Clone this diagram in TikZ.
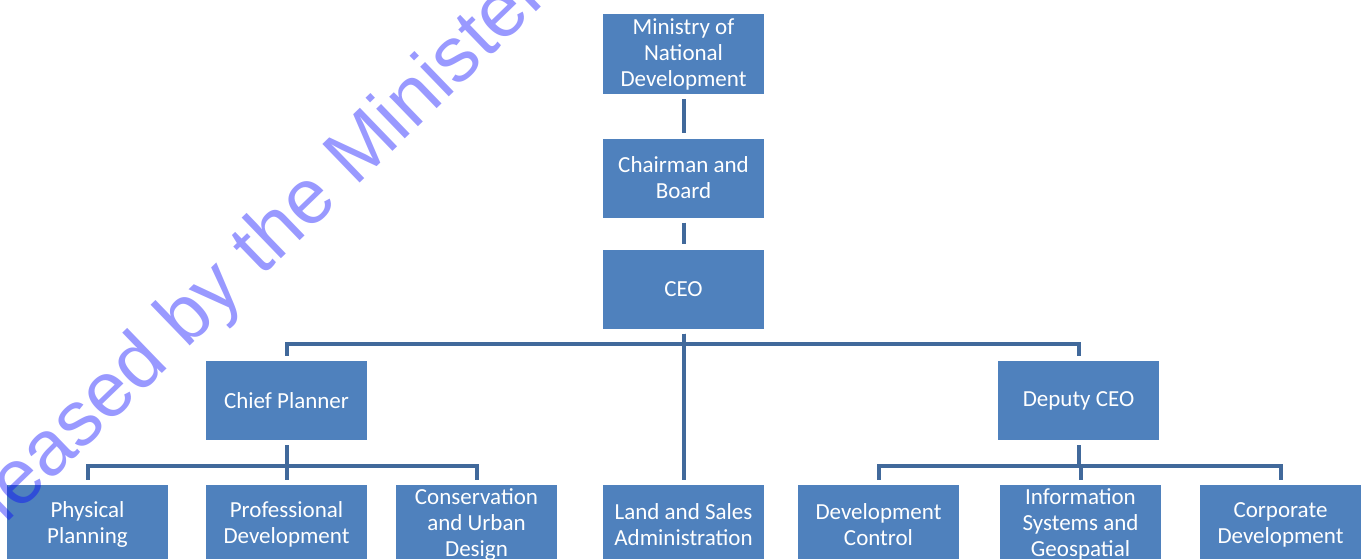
\documentclass[tikz,border=0pt]{standalone}
\usepackage{fontspec}
\setmainfont{Carlito}
\newfontfamily\wmfont{Liberation Sans}
\definecolor{boxblue}{HTML}{4F81BD}
\definecolor{lineblue}{HTML}{41699B}
\tikzset{
  orgbox/.style={fill=boxblue, draw=none, minimum width=161pt, minimum height=79pt, inner sep=0pt,
    align=center, text=white, font=\fontsize{23}{26}\selectfont},
  conn/.style={draw=lineblue, line width=4pt, shorten <=5pt, shorten >=5pt},
}
\begin{document}
\begin{tikzpicture}[x=1pt,y=-1pt]
\useasboundingbox (0,0) rectangle (1368,558);
\clip (0,0) rectangle (1368,558);
\fill[white] (0,0) rectangle (1368,558);
% top column
\node[orgbox, minimum height=80pt] (min) at (683.5,54) {Ministry of\\National\\Development};
\node[orgbox] (chair) at (683.5,178) {Chairman and\\Board};
\node[orgbox] (ceo) at (683.5,289) {CEO};
% second level
\node[orgbox] (chief) at (286.5,400.5) {Chief Planner};
\node[orgbox] (dep) at (1078.5,400.5) {Deputy CEO};
% bottom row
\node[orgbox] (phys) at (87.5,524.5) {Physical\\Planning};
\node[orgbox] (prof) at (286.5,524.5) {Professional\\Development};
\node[orgbox] (cons) at (476.5,524.5) {Conservation\\and Urban\\Design};
\node[orgbox] (land) at (683.5,524.5) {Land and Sales\\Administration};
\node[orgbox] (devc) at (878.5,524.5) {Development\\Control};
\node[orgbox] (info) at (1080.5,524.5) {Information\\Systems and\\Geospatial};
\node[orgbox] (corp) at (1280.5,524.5) {Corporate\\Development};
% connectors
\draw[conn] (min.south) -- (chair.north);
\draw[conn] (chair.south) -- (ceo.north);
\draw[conn] (ceo.south) -- ++(0,15) -| (chief.north);
\draw[conn] (ceo.south) -- ++(0,15) -| (dep.north);
\draw[conn] (ceo.south) -- (land.north);
\draw[conn] (chief.south) -- ++(0,26) -| (phys.north);
\draw[conn] (chief.south) -- ++(0,26) -| (cons.north);
\draw[conn] (chief.south) -- (prof.north);
\draw[conn] (dep.south) -- ++(0,26) -| (devc.north);
\draw[conn] (dep.south) -- ++(0,26) -| (corp.north);
\draw[conn] (dep.south) -- ++(0,26) -| (info.north);
% watermark
\node[rotate=44, anchor=base west, inner sep=0pt, text=blue, text opacity=0.4,
  font=\wmfont\fontsize{78}{80}\selectfont] (wm) at (-66,594) {Released by the Minister for National Development};
\end{tikzpicture}
\end{document}
